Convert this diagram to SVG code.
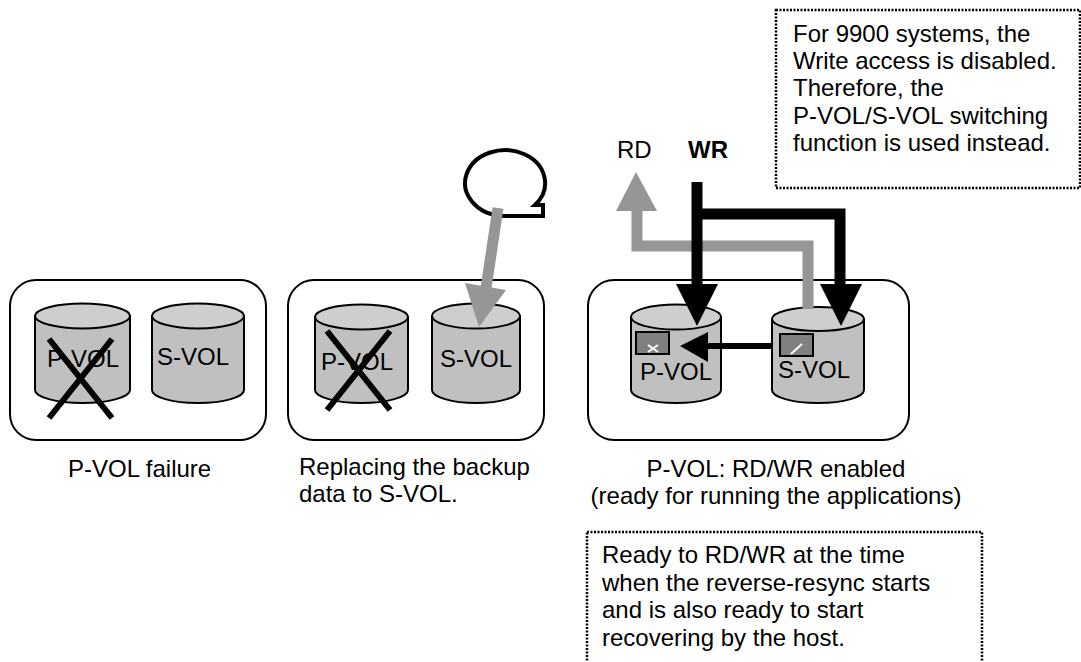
<svg xmlns="http://www.w3.org/2000/svg" width="1081" height="662" viewBox="0 0 1081 662">
<style>
text{font-family:"Liberation Sans",Arial,sans-serif;font-size:24px;fill:#000}
.panel{fill:#fff;stroke:#000;stroke-width:2}
.body{fill:#c0c0c0;stroke:#000;stroke-width:2}
.top{fill:#cecece;stroke:#000;stroke-width:2}
.note{fill:#fff;stroke:#000;stroke-width:2.500;stroke-dasharray:2 1.500}
.x{stroke:#000;stroke-width:6;fill:none}
.icon{fill:#808080;stroke:#000;stroke-width:2}
.tick{stroke:#fff;stroke-width:2;fill:none}
.bk{stroke:#000;stroke-width:11;fill:none}
.gr{stroke:#969696;stroke-width:11;fill:none}
</style>
<rect width="1081" height="662" fill="#fff"/>
<g id="panel-1"><rect class="panel" x="10" y="280" width="256" height="160" rx="26"/></g>
<g id="panel-2"><rect class="panel" x="288" y="280" width="256" height="160" rx="26"/></g>
<g id="panel-3"><rect class="panel" x="588" y="280" width="321" height="160" rx="26"/></g>
<g id="vol-p1">
<path class="body" d="M35 316V390C35 397 56 403 82.500 403S130 397 130 390V316Z"/>
<ellipse class="top" cx="82.500" cy="316" rx="47.500" ry="12.500"/>
<text x="47" y="367">P-VOL</text>
<path class="x" d="M49 339L112 418M112 339L49 418"/>
</g>
<g id="vol-s1">
<path class="body" d="M152 316V390C152 397 172 403 198 403S244 397 244 390V316Z"/>
<ellipse class="top" cx="198" cy="316" rx="46" ry="12.500"/>
<text x="157" y="365">S-VOL</text>
</g>
<g id="vol-p2">
<path class="body" d="M315 317V390C315 397 336 403 361.500 403S408 397 408 390V317Z"/>
<ellipse class="top" cx="361.500" cy="317" rx="46.500" ry="12.500"/>
<text x="321" y="370">P-VOL</text>
<path class="x" d="M327 331L390 410M390 331L327 410"/>
</g>
<g id="vol-s2">
<path class="body" d="M432 316V390C432 397 452 403 476 403S520 397 520 390V316Z"/>
<ellipse class="top" cx="476" cy="316" rx="44" ry="12.500"/>
<text x="440" y="367">S-VOL</text>
</g>
<g id="vol-p3">
<path class="body" d="M631 317V390C631 397 651 403 676 403S721 397 721 390V317Z"/>
<ellipse class="top" cx="676" cy="317" rx="45" ry="12.500"/>
<rect class="icon" x="636" y="332" width="33" height="22"/>
<path class="tick" d="M648 345L658 352M658 345L648 352"/>
<text x="640" y="380">P-VOL</text>
</g>
<g id="vol-s3">
<path class="body" d="M772 319V390C772 397 792 403 818 403S864 397 864 390V319Z"/>
<ellipse class="top" cx="818" cy="319" rx="46" ry="12"/>
<rect class="icon" x="780" y="334" width="33" height="22"/>
<path class="tick" d="M791 354L802 344"/>
<text x="778" y="378">S-VOL</text>
</g>
<g id="connectors">
<path d="M502 216A40 33 0 1 1 535 205H543V216Z" fill="#fff" stroke="#000" stroke-width="4"/>
<path class="gr" d="M498 208L486 288"/>
<path d="M465 283L506 290L479 327Z" fill="#969696"/>
<path class="gr" d="M808 309V246H637V208"/>
<path d="M636 172L616 211H657Z" fill="#969696"/>
<path class="bk" d="M697 182V288"/>
<path d="M676 284H718L697 326Z" fill="#000"/>
<path class="bk" d="M697 214H840V288"/>
<path d="M820 284H862L841 326Z" fill="#000"/>
<path d="M771 346H700" stroke="#000" stroke-width="6" fill="none"/>
<path d="M680 346L708 332V362Z" fill="#000"/>
</g>
<g id="note-top">
<rect class="note" x="776" y="10" width="304" height="178"/>
<text x="793" y="42">For 9900 systems, the</text>
<text x="793" y="69">Write access is disabled.</text>
<text x="793" y="96">Therefore, the</text>
<text x="793" y="124">P-VOL/S-VOL switching</text>
<text x="793" y="151">function is used instead.</text>
</g>
<g id="note-bottom">
<rect class="note" x="587" y="532" width="395" height="140"/>
<text x="602" y="563">Ready to RD/WR at the time</text>
<text x="602" y="591">when the reverse-resync starts</text>
<text x="602" y="618">and is also ready to start</text>
<text x="602" y="646">recovering by the host.</text>
</g>
<g id="labels">
<text x="617" y="158">RD</text>
<text x="688" y="158" font-weight="bold">WR</text>
<text x="68" y="477">P-VOL failure</text>
<text x="299" y="475">Replacing the backup</text>
<text x="299" y="502">data to S-VOL.</text>
<text x="776" y="477" text-anchor="middle">P-VOL: RD/WR enabled</text>
<text x="776" y="504" text-anchor="middle">(ready for running the applications)</text>
</g>
</svg>
